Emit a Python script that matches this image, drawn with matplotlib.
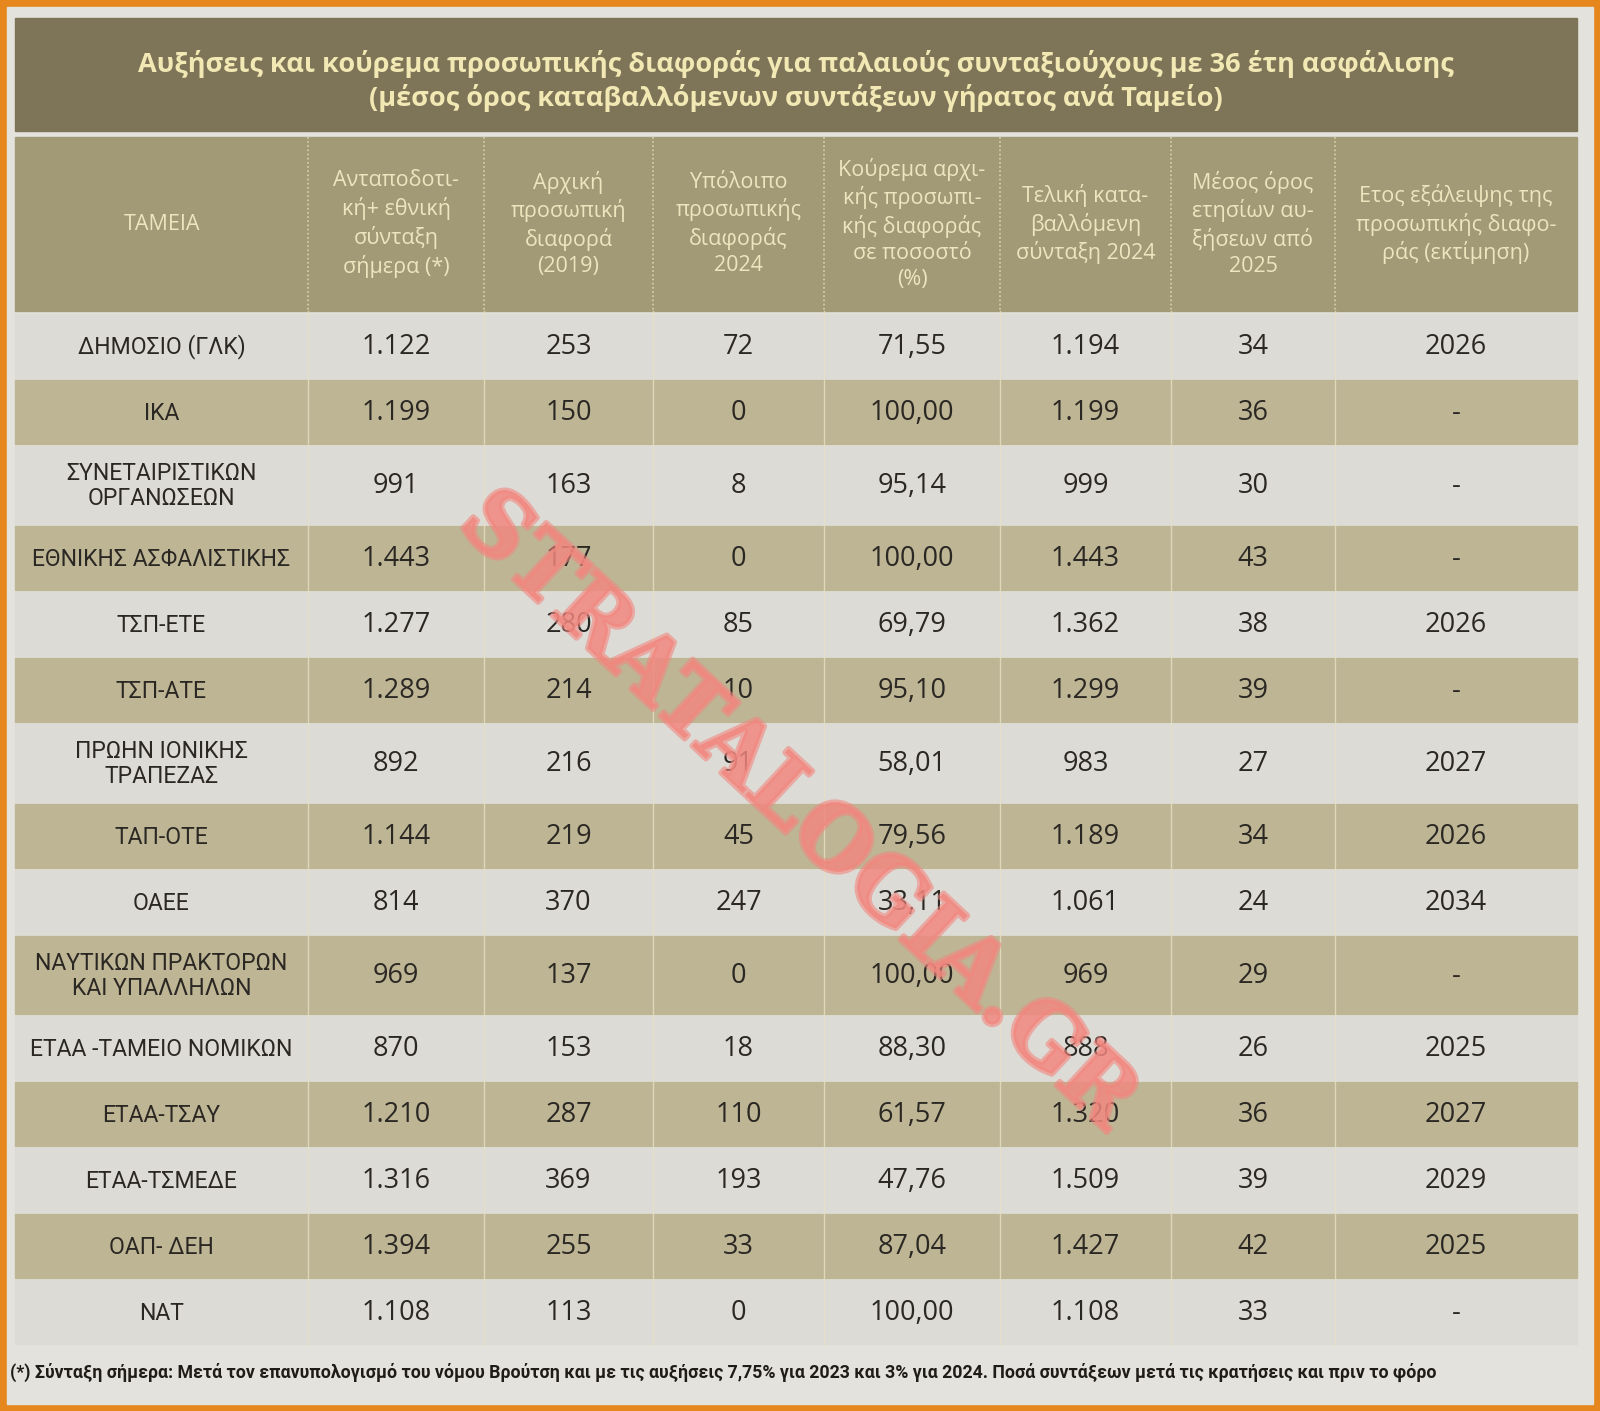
import matplotlib.pyplot as plt
import matplotlib.patheffects as pe
from matplotlib.patches import Rectangle

# στοιχεία πίνακα
title_lines = ["Αυξήσεις και κούρεμα προσωπικής διαφοράς για παλαιούς συνταξιούχους με 36 έτη ασφάλισης",
               "(μέσος όρος καταβαλλόμενων συντάξεων γήρατος ανά Ταμείο)"]
headers = ["ΤΑΜΕΙΑ",
           "Ανταποδοτι-\nκή+ εθνική\nσύνταξη\nσήμερα (*)",
           "Αρχική\nπροσωπική\nδιαφορά\n(2019)",
           "Υπόλοιπο\nπροσωπικής\nδιαφοράς\n2024",
           "Κούρεμα αρχι-\nκής προσωπι-\nκής διαφοράς\nσε ποσοστό\n(%)",
           "Τελική κατα-\nβαλλόμενη\nσύνταξη 2024",
           "Μέσος όρος\nετησίων αυ-\nξήσεων από\n2025",
           "Ετος εξάλειψης της\nπροσωπικής διαφο-\nράς (εκτίμηση)"]
tameia = ["ΔΗΜΟΣΙΟ (ΓΛΚ)", "ΙΚΑ", "ΣΥΝΕΤΑΙΡΙΣΤΙΚΩΝ\nΟΡΓΑΝΩΣΕΩΝ", "ΕΘΝΙΚΗΣ ΑΣΦΑΛΙΣΤΙΚΗΣ",
          "ΤΣΠ-ΕΤΕ", "ΤΣΠ-ΑΤΕ", "ΠΡΩΗΝ ΙΟΝΙΚΗΣ\nΤΡΑΠΕΖΑΣ", "ΤΑΠ-ΟΤΕ", "ΟΑΕΕ",
          "ΝΑΥΤΙΚΩΝ ΠΡΑΚΤΟΡΩΝ\nΚΑΙ ΥΠΑΛΛΗΛΩΝ", "ΕΤΑΑ -ΤΑΜΕΙΟ ΝΟΜΙΚΩΝ", "ΕΤΑΑ-ΤΣΑΥ",
          "ΕΤΑΑ-ΤΣΜΕΔΕ", "ΟΑΠ- ΔΕΗ", "ΝΑΤ"]
syntaxi_simera = [1122, 1199, 991, 1443, 1277, 1289, 892, 1144, 814, 969, 870, 1210, 1316, 1394, 1108]
arxiki_diafora = [253, 150, 163, 177, 280, 214, 216, 219, 370, 137, 153, 287, 369, 255, 113]
ypoloipo_2024 = [72, 0, 8, 0, 85, 10, 91, 45, 247, 0, 18, 110, 193, 33, 0]
kourema_pososto = [71.55, 100.00, 95.14, 100.00, 69.79, 95.10, 58.01, 79.56, 33.11,
                   100.00, 88.30, 61.57, 47.76, 87.04, 100.00]
teliki_2024 = [1194, 1199, 999, 1443, 1362, 1299, 983, 1189, 1061, 969, 888, 1320, 1509, 1427, 1108]
mesos_oros_afxiseon = [34, 36, 30, 43, 38, 39, 27, 34, 24, 29, 26, 36, 39, 42, 33]
etos_exaleipsis = [2026, None, None, None, 2026, None, 2027, 2026, 2034, None, 2025, 2027, 2029, 2025, None]
footnote = ("(*) Σύνταξη σήμερα: Μετά τον επανυπολογισμό του νόμου Βρούτση και με τις αυξήσεις "
            "7,75% για 2023 και 3% για 2024. Ποσά συντάξεων μετά τις κρατήσεις και πριν το φόρο")
watermark = "STRATALOGIA.GR"


def thous(v):
    return f"{v:,}".replace(",", ".")


def pct(v):
    return f"{v:.2f}".replace(".", ",")


def year(v):
    return "-" if v is None else str(v)


NARROW = ['Roboto', 'DejaVu Sans']
SANS = ['Open Sans', 'DejaVu Sans']

fig = plt.figure(figsize=(16, 14.11), dpi=100, facecolor='#e6871d')
ax = fig.add_axes([0, 0, 1, 1])
ax.set_xlim(0, 1600)
ax.set_ylim(1411, 0)
ax.axis('off')
renderer = fig.canvas.get_renderer()


def fit_width(t, target):
    w = t.get_window_extent(renderer).width
    t.set_fontsize(t.get_fontsize() * target / w)


# χαρτί
ax.add_patch(Rectangle((7, 7), 1586, 1397, color='#e4e2dd', zorder=0))

left, right = 15, 1577
col_edges = [left, 308, 484, 653, 824, 1000, 1171, 1335, right]
col_mid = [(a + b) / 2 for a, b in zip(col_edges[:-1], col_edges[1:])]

# τίτλος
ax.add_patch(Rectangle((left, 18), right - left, 113, color='#7e7457', zorder=1))
t1 = ax.text(796, 64, title_lines[0], ha='center', va='center', color='#f1e8b4',
             fontsize=20, fontweight='bold', family=SANS, zorder=3)
fit_width(t1, 1313)
ax.text(796, 98, title_lines[1], ha='center', va='center', color='#f1e8b4',
        fontsize=t1.get_fontsize(), fontweight='bold', family=SANS, zorder=3)

# επικεφαλίδες
head_top, head_bot = 137, 311
ax.add_patch(Rectangle((left, head_top), right - left, head_bot - head_top, color='#a29a77', zorder=1))
for x, h in zip(col_mid, headers):
    ax.text(x, (head_top + head_bot) / 2, h, ha='center', va='center', color='#ece5bd',
            fontsize=15.5, family=SANS, linespacing=1.32, zorder=3)
for x in col_edges[1:-1]:
    ax.plot([x, x], [head_top, head_bot], color='#d9d2a6', lw=1.2, ls=(0, (1, 1.5)), zorder=2)

# μέγεθος γραμματοσειράς ονομάτων ταμείων από το πλατύτερο όνομα
probe = ax.text(0, 0, "ΕΘΝΙΚΗΣ ΑΣΦΑΛΙΣΤΙΚΗΣ", fontsize=19, family=NARROW)
fit_width(probe, 259)
label_size = probe.get_fontsize()
probe.remove()

# γραμμές δεδομένων
y = 313
for i, name in enumerate(tameia):
    h = 80 if "\n" in name else 66
    fill = '#dddbd6' if i % 2 == 0 else '#bdb594'
    ax.add_patch(Rectangle((left, y + 1), right - left, h - 2, color=fill, zorder=1))
    yc = y + h / 2 + 1
    cells = [thous(syntaxi_simera[i]), str(arxiki_diafora[i]), str(ypoloipo_2024[i]),
             pct(kourema_pososto[i]), thous(teliki_2024[i]), str(mesos_oros_afxiseon[i]),
             year(etos_exaleipsis[i])]
    ax.text(col_mid[0], yc, name, ha='center', va='center', color='#2b2723',
            fontsize=label_size, family=NARROW, linespacing=1.1, zorder=3)
    for x, c in zip(col_mid[1:], cells):
        ax.text(x, yc, c, ha='center', va='center', color='#2b2723',
                fontsize=19.5, family=SANS, zorder=3)
    y += h
table_bot = y
for x in col_edges[1:-1]:
    ax.plot([x, x], [head_bot, table_bot], color='#e6e1c2', lw=1.0, alpha=0.8, zorder=2)

# υποσημείωση
fn = ax.text(10, 1372, footnote, ha='left', va='center', color='#1e1b18',
             fontsize=15, fontweight='bold', family=NARROW, zorder=3)
fit_width(fn, 1430)

# υδατογράφημα
wm = ax.text(798, 811, watermark, ha='center', va='center', color='#f2877f', alpha=0.6,
             fontsize=60, fontweight='bold', family=['DejaVu Serif'], zorder=5)
fit_width(wm, 890)
wm.set_rotation(-43)
wm.set_path_effects([pe.withStroke(linewidth=4, foreground='#f2877f')])

fig.savefig('out.png', dpi=100, facecolor=fig.get_facecolor())
